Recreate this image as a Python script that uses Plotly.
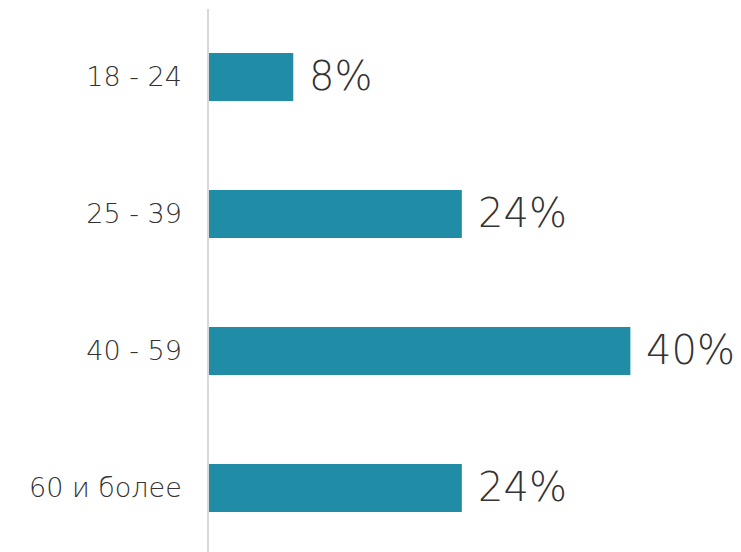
import plotly.graph_objects as go

categories = ["18 - 24", "25 - 39", "40 - 59", "60 и более"]
values = [8, 24, 40, 24]
labels = ["8%", "24%", "40%", "24%"]

BAR_COLOR = "#218ca6"
TEXT_COLOR = "#333333"
FONT = "DejaVu Sans"

fig = go.Figure()
fig.add_trace(go.Bar(
    x=values, y=categories, orientation="h",
    marker=dict(color=BAR_COLOR, line=dict(width=0)),
    width=0.35, hoverinfo="skip",
))

for c, v, t in zip(categories, values, labels):
    fig.add_annotation(x=v, y=c, text=t, showarrow=False, xanchor="left",
                       xshift=14, yshift=1,
                       font=dict(family=FONT, size=40, color=TEXT_COLOR, weight=300))

fig.update_layout(
    width=733, height=544,
    margin=dict(l=201, r=0, t=1, b=0, pad=0),
    paper_bgcolor="white", plot_bgcolor="white",
    showlegend=False,
    font=dict(family=FONT, color=TEXT_COLOR),
    xaxis=dict(range=[0, 50.5], visible=False, showgrid=False, zeroline=False, fixedrange=True),
    yaxis=dict(range=[3.467, -0.496], showgrid=False, zeroline=False,
               showline=True, linecolor="#d9d9d9", linewidth=1.5,
               ticks="", ticklabelstandoff=20,
               tickfont=dict(family=FONT, size=27, color=TEXT_COLOR, weight=300)),
)

fig.write_html("out.html")
